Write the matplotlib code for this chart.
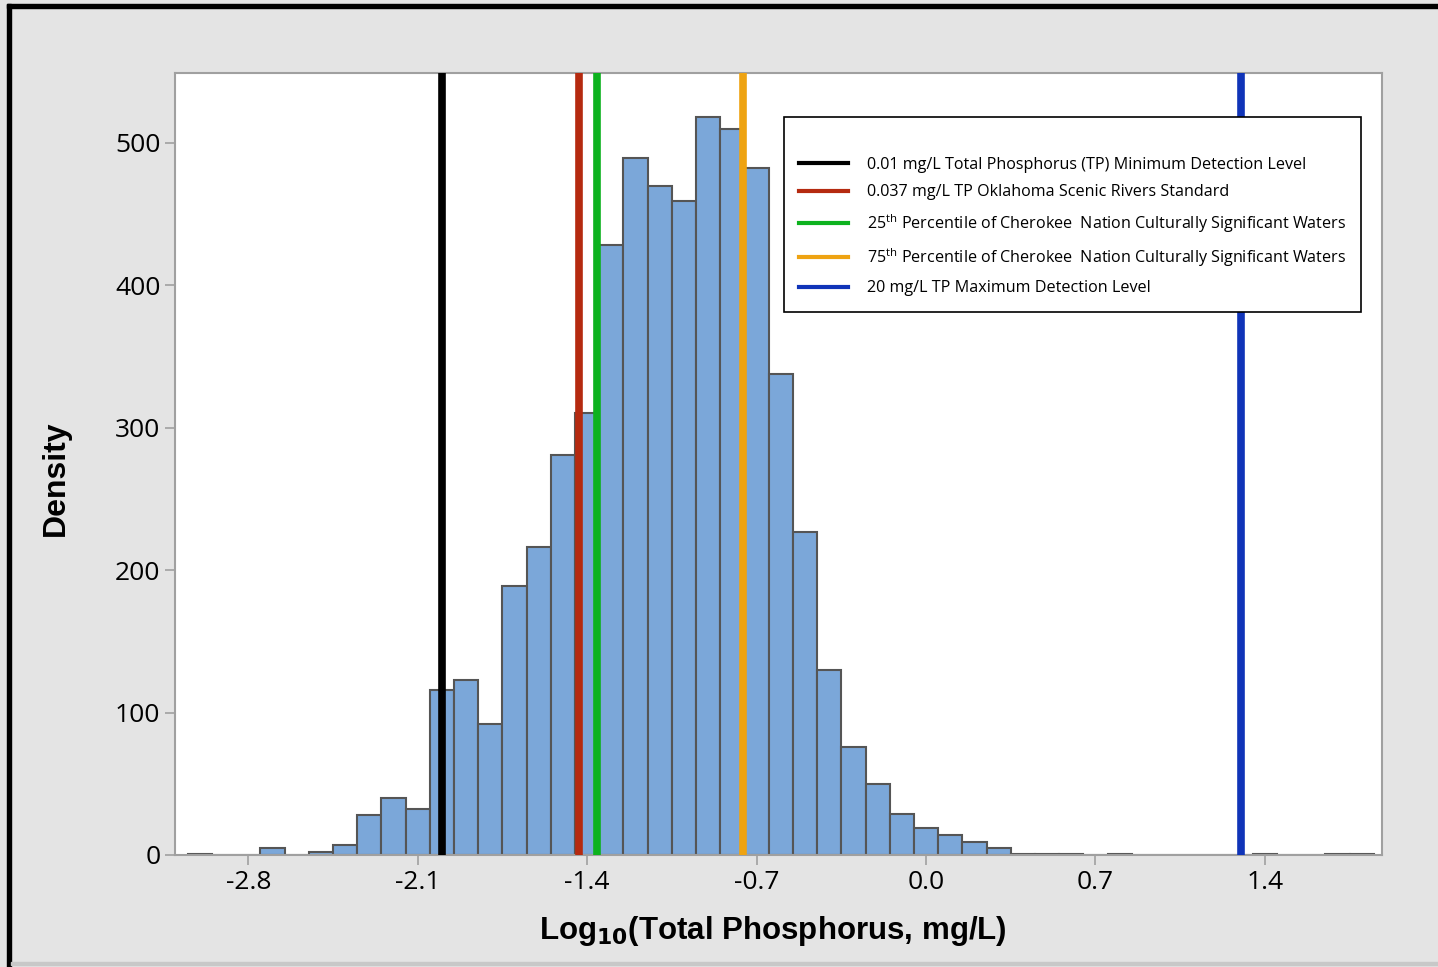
import numpy as np
import matplotlib
matplotlib.use("Agg")
import matplotlib.pyplot as plt
from matplotlib.patches import Rectangle

# Histogram bins (log10 TP, bin width 0.1) and bar heights
bin_centers = np.round(np.arange(-3.0, 1.85, 0.1), 1)
densities = [1, 0, 0, 5, 0, 2, 7, 28, 40, 32,
             116, 123, 92, 189, 216, 281, 310, 428, 489, 470,
             459, 518, 510, 482, 338, 227, 130, 76, 50, 29,
             19, 14, 9, 5, 1, 1, 1, 0, 1, 0,
             0, 0, 0, 0, 1, 0, 0, 1, 1]

# Reference lines
ref_x = [np.log10(0.01), np.log10(0.037), -1.36, -0.755, np.log10(20)]
ref_colors = ["#000000", "#b52a10", "#0db21e", "#eea312", "#1034b8"]
ref_labels = [
    "0.01 mg/L Total Phosphorus (TP) Minimum Detection Level",
    "0.037 mg/L TP Oklahoma Scenic Rivers Standard",
    "25$^{\\mathrm{th}}$ Percentile of Cherokee  Nation Culturally Significant Waters",
    "75$^{\\mathrm{th}}$ Percentile of Cherokee  Nation Culturally Significant Waters",
    "20 mg/L TP Maximum Detection Level",
]

xticks = [-2.8, -2.1, -1.4, -0.7, 0.0, 0.7, 1.4]
yticks = [0, 100, 200, 300, 400, 500]

plt.rcParams['mathtext.fontset'] = 'custom'
plt.rcParams['mathtext.rm'] = 'Open Sans'

fig = plt.figure(figsize=(14.38, 9.67), dpi=100)
fig.patch.set_facecolor("#e4e4e4")
ax = fig.add_axes([175 / 1438, 112 / 967, 1207 / 1438, 782 / 967])
ax.set_facecolor("white")

ax.bar(bin_centers, densities, width=0.1, color="#7ba7d9",
       edgecolor="#555555", linewidth=1.5, zorder=2)

for x, c, lab in zip(ref_x, ref_colors, ref_labels):
    ax.axvline(x, color=c, linewidth=5.5, label=lab, zorder=3)

ax.set_xlim(-3.103, 1.884)
ax.set_ylim(0, 549)
ax.set_xticks(xticks)
ax.set_xticklabels([f"{t:.1f}" for t in xticks])
ax.set_yticks(yticks)

for s in ax.spines.values():
    s.set_color("#a0a0a0")
    s.set_linewidth(1.5)
ax.tick_params(axis="both", colors="#a0a0a0", length=7, width=1.2,
               labelcolor="black", labelsize=19)
for lbl in ax.get_xticklabels() + ax.get_yticklabels():
    lbl.set_fontfamily("Open Sans")

ax.set_ylabel("Density", fontsize=23, fontweight="bold",
              fontfamily="Liberation Sans")
ax.yaxis.set_label_coords(-0.086, 0.482)
ax.set_xlabel("Log$_{\\mathbf{10}}$(Total Phosphorus, mg/L)", fontsize=22.5,
              fontweight="bold", fontfamily="Liberation Sans")
ax.xaxis.set_label_coords(0.4955, -0.0755)

leg = ax.legend(loc="upper right", bbox_to_anchor=(0.983, 0.944),
                frameon=True, fancybox=False, framealpha=1,
                prop={"family": "Open Sans", "size": 11.6},
                title=" ", title_fontsize=9,
                handlelength=3.0, handletextpad=1.2, labelspacing=0.72,
                borderpad=0.95, borderaxespad=0)
leg.get_frame().set_edgecolor("black")
leg.get_frame().set_linewidth(1.2)
for line in leg.get_lines():
    line.set_linewidth(3)

# figure frame
fig.add_artist(Rectangle((7 / 1438, 0), 4 / 1438, 963 / 967,
                         transform=fig.transFigure, color="black"))
fig.add_artist(Rectangle((7 / 1438, 959 / 967), 1431 / 1438, 4 / 967,
                         transform=fig.transFigure, color="black"))
fig.add_artist(Rectangle((11 / 1438, 2 / 967), 1427 / 1438, 3 / 967,
                         transform=fig.transFigure, color="#c8c8c8"))

fig.savefig("out.png", dpi=100, facecolor=fig.get_facecolor())
